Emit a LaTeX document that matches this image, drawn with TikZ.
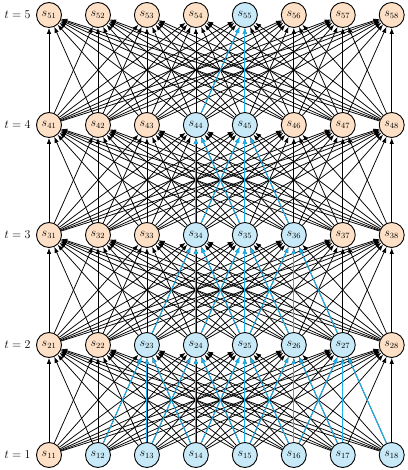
\documentclass[tikz,border=0pt]{standalone}
\usepackage{amsmath, amssymb}
\usepackage{tikz}
\usetikzlibrary{calc, positioning, arrows.meta}

\definecolor{cOut}{RGB}{253,224,197}
\definecolor{cIn}{RGB}{199,233,248}
\definecolor{cCone}{RGB}{27,177,236}

\tikzset{
  state/.style={circle, draw=black, line width=0.9pt, minimum size=25pt, inner sep=0pt, font=\large},
  edge/.style={black, line width=0.75pt, -{Latex[length=6pt,width=4.5pt]}},
  coneedge/.style={cCone, line width=1pt, -{Latex[length=6pt,width=4.5pt]}}
}

\begin{document}
\begin{tikzpicture}[x=1pt, y=1pt]
\def\dx{48.96}
\def\dy{110}
\useasboundingbox (0,0) rectangle (407,470);
% nodes, light cone of s55 in blue
\foreach \t/\lo/\hi in {1/2/8, 2/3/7, 3/4/6, 4/4/5, 5/5/5} {
  \foreach \j in {1,...,8} {
    \ifnum\j<\lo \def\cFill{cOut}\else\ifnum\j>\hi \def\cFill{cOut}\else\def\cFill{cIn}\fi\fi
    \node[state, fill=\cFill] (s\t\j) at ({49+(\j-1)*\dx}, {15+(\t-1)*\dy}) {$s_{\t\j}$};
  }
  \node[left=2pt of s\t1, font=\large] (t\t) {$t=\t$};
}
% all edges between consecutive rows
\foreach \t in {1,...,4} {
  \pgfmathtruncatemacro\tn{\t+1}
  \foreach \i in {1,...,8} {
    \foreach \j in {1,...,8} {
      \draw[edge] (s\t\i) -- (s\tn\j);
    }
  }
}
% nearest-neighbour edges inside the cone
\foreach \t/\lo/\hi/\LO/\HI in {1/2/8/3/7, 2/3/7/4/6, 3/4/6/4/5, 4/4/5/5/5} {
  \pgfmathtruncatemacro\tn{\t+1}
  \foreach \i in {\lo,...,\hi} {
    \foreach \j in {\LO,...,\HI} {
      \pgfmathtruncatemacro\d{abs(\i-\j)}
      \ifnum\d<2 \draw[coneedge] (s\t\i) -- (s\tn\j); \fi
    }
  }
}
\end{tikzpicture}
\end{document}
